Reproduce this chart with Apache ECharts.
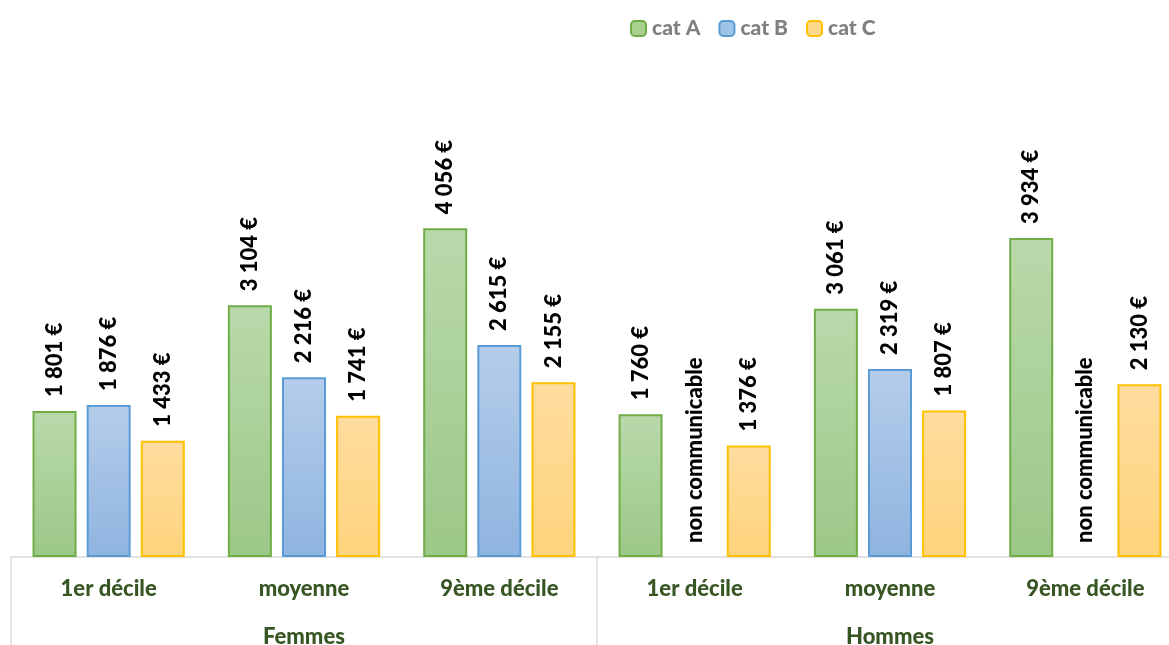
<!DOCTYPE html>
<html>
<head>
<meta charset="utf-8">
<script src="https://cdn.jsdelivr.net/npm/echarts@6/dist/echarts.min.js"></script>
<style>
html,body{margin:0;padding:0;background:#fff;}
#chart{width:1169px;height:645px;}
</style>
</head>
<body>
<div id="chart"></div>
<script>
const categories = ['1er décile','moyenne','9ème décile','1er décile','moyenne','9ème décile'];
const groups = ['Femmes','Hommes'];
const seriesNames = ['cat A','cat B','cat C'];
const catA = [1801, 3104, 4056, 1760, 3061, 3934];
const catB = [1876, 2216, 2615, null, 2319, null];
const catC = [1433, 1741, 2155, 1376, 1807, 2130];

const FONT = 'Lato';
const WEIGHT = 900;
function fmt(v){
  return String(v).replace(/\B(?=(\d{3})+(?!\d))/g,' ') + ' €';
}
function grad(top, bottom){
  return new echarts.graphic.LinearGradient(0,0,0,1,[{offset:0,color:top},{offset:1,color:bottom}]);
}
const styles = [
  {fill: grad('#b9d9aa','#9cc888'), border:'#70ad47', legend:'#a9d18e'},
  {fill: grad('#b5cdea','#8fb4e0'), border:'#5b9bd5', legend:'#9dc3e6'},
  {fill: grad('#ffdc9f','#ffd47c'), border:'#ffc000', legend:'#ffd88a'}
];
const raw = [catA, catB, catC];

function mkData(arr){
  return arr.map(v => v == null
    ? {value:0, nc:true, itemStyle:{borderWidth:0, color:'transparent'}}
    : v);
}

const chart = echarts.init(document.getElementById('chart'), null, {renderer:'canvas'});
chart.setOption({
  animation:false,
  textStyle:{fontFamily:FONT},
  legend:{
    top:13, left:625,
    itemWidth:15, itemHeight:15, itemGap:18,
    textStyle:{color:'#808080', fontSize:21, fontWeight:WEIGHT, fontFamily:FONT, padding:[0,0,0,1]},
    data: seriesNames.map((n,i)=>({name:n, itemStyle:{color:styles[i].legend, borderColor:styles[i].border, borderWidth:2}}))
  },
  grid:{left:11, right:-14, top:70.5, bottom:88, containLabel:false, outerBoundsMode:'none'},
  xAxis:[
    {
      type:'category', data:categories, position:'bottom',
      axisLine:{show:true, lineStyle:{color:'#d9d9d9', width:1.5}},
      axisTick:{show:false},
      axisLabel:{interval:0, margin:21, color:'#375623', fontSize:22, fontWeight:WEIGHT, fontFamily:FONT}
    },
    {
      type:'category', data:groups, position:'bottom',
      axisLine:{show:false},
      axisTick:{show:true, length:92, interval:0, lineStyle:{color:'#d9d9d9', width:1.5}},
      axisLabel:{interval:0, margin:69, color:'#375623', fontSize:22, fontWeight:WEIGHT, fontFamily:FONT}
    }
  ],
  yAxis:{type:'value', min:0, max:6000, show:false, splitLine:{show:false}},
  series: seriesNames.map((n,i)=>({
    name:n, type:'bar', xAxisIndex:0,
    barWidth:44, barGap:'23%',
    data: mkData(raw[i]),
    itemStyle:{color:styles[i].fill, borderColor:styles[i].border, borderWidth:2},
    label:{
      show:true, position:'top', rotate:90, distance:14,
      align:'left', verticalAlign:'middle',
      color:'#000', fontSize:22, fontWeight:WEIGHT, fontFamily:FONT,
      formatter: p => (p.data && p.data.nc) ? 'non communicable' : fmt(p.value)
    }
  }))
});
</script>
</body>
</html>
